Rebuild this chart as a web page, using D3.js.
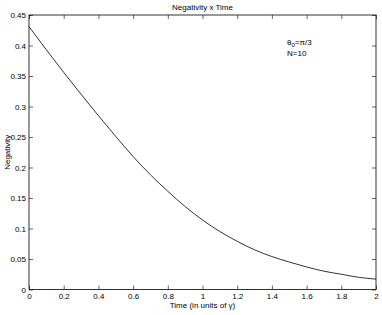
<!DOCTYPE html>
<html>
<head>
<meta charset="utf-8">
<script src="https://cdn.jsdelivr.net/npm/d3@7"></script>
<style>
body { margin: 0; background: #fff; }
svg text { font-family: "Liberation Sans", Arial, sans-serif; fill: #000; }
</style>
</head>
<body>
<svg width="382" height="315"></svg>
<script>
// values
var times = [0, 0.1, 0.2, 0.3, 0.4, 0.5, 0.6, 0.7, 0.8, 0.9, 1.0, 1.1, 1.2, 1.3, 1.4, 1.5, 1.6, 1.7, 1.8, 1.9, 2.0];
var negativity = [0.431, 0.393, 0.356, 0.320, 0.285, 0.251, 0.218, 0.188, 0.161, 0.136, 0.114, 0.095, 0.079, 0.065, 0.054, 0.045, 0.037, 0.030, 0.025, 0.020, 0.017];
var xTicks = [0, 0.2, 0.4, 0.6, 0.8, 1, 1.2, 1.4, 1.6, 1.8, 2];
var yTicks = [0, 0.05, 0.1, 0.15, 0.2, 0.25, 0.3, 0.35, 0.4, 0.45];

var svg = d3.select("svg");
var padL = 29, padR = 376, padT = 15, padB = 289.5;

var x = d3.scaleLinear().domain([0, 2]).range([padL, padR]);
var y = d3.scaleLinear().domain([0, 0.45]).range([padB, padT]);

var fmt = function(d){ return String(+d.toFixed(2)); };

function styleTicks(g){
	g.select(".domain").remove();
	g.selectAll("line").attr("stroke", "#000").attr("stroke-width", 0.6);
	g.selectAll("text").attr("font-size", 8).attr("font-family", "Liberation Sans, Arial, sans-serif");
}

// bottom axis with labels
svg.append("g")
	.attr("transform", "translate(0," + padB + ")")
	.call(d3.axisBottom(x).tickValues(xTicks).tickSizeInner(-4).tickSizeOuter(0).tickPadding(4).tickFormat(fmt))
	.call(styleTicks);
// top ticks
svg.append("g")
	.attr("transform", "translate(0," + padT + ")")
	.call(d3.axisTop(x).tickValues(xTicks).tickSizeInner(-4).tickSizeOuter(0).tickFormat(""))
	.call(styleTicks);
// left axis with labels
svg.append("g")
	.attr("transform", "translate(" + padL + ",0)")
	.call(d3.axisLeft(y).tickValues(yTicks).tickSizeInner(-4).tickSizeOuter(0).tickPadding(3).tickFormat(fmt))
	.call(styleTicks);
// right ticks
svg.append("g")
	.attr("transform", "translate(" + padR + ",0)")
	.call(d3.axisRight(y).tickValues(yTicks).tickSizeInner(-4).tickSizeOuter(0).tickFormat(""))
	.call(styleTicks);

// box
svg.append("rect")
	.attr("x", padL).attr("y", padT)
	.attr("width", padR - padL).attr("height", padB - padT)
	.attr("fill", "none").attr("stroke", "#000").attr("stroke-width", 0.8);

// curve
var pts = times.map(function(t, i){ return [t, negativity[i]]; });
svg.append("path")
	.datum(pts)
	.attr("fill", "none")
	.attr("stroke", "#000")
	.attr("stroke-width", 0.8)
	.attr("d", d3.line().x(function(d){ return x(d[0]); }).y(function(d){ return y(d[1]); }).curve(d3.curveMonotoneX));

// title and labels
svg.append("text").attr("x", (padL + padR) / 2).attr("y", 10)
	.attr("text-anchor", "middle").attr("font-size", 8).text("Negativity x Time");
svg.append("text").attr("x", (padL + padR) / 2).attr("y", 308)
	.attr("text-anchor", "middle").attr("font-size", 8).text("Time (in units of γ)");
svg.append("text").attr("transform", "translate(10," + ((padT + padB) / 2) + ") rotate(-90)")
	.attr("text-anchor", "middle").attr("font-size", 8).text("Negativity");

// annotation
var ann = svg.append("text").attr("x", 287).attr("y", 45).attr("font-size", 8);
ann.append("tspan").text("θ");
ann.append("tspan").attr("font-size", 6).attr("dy", 2).text("0");
ann.append("tspan").attr("dy", -2).text("=π/3");
svg.append("text").attr("x", 287).attr("y", 56).attr("font-size", 8).text("N=10");
</script>
</body>
</html>
